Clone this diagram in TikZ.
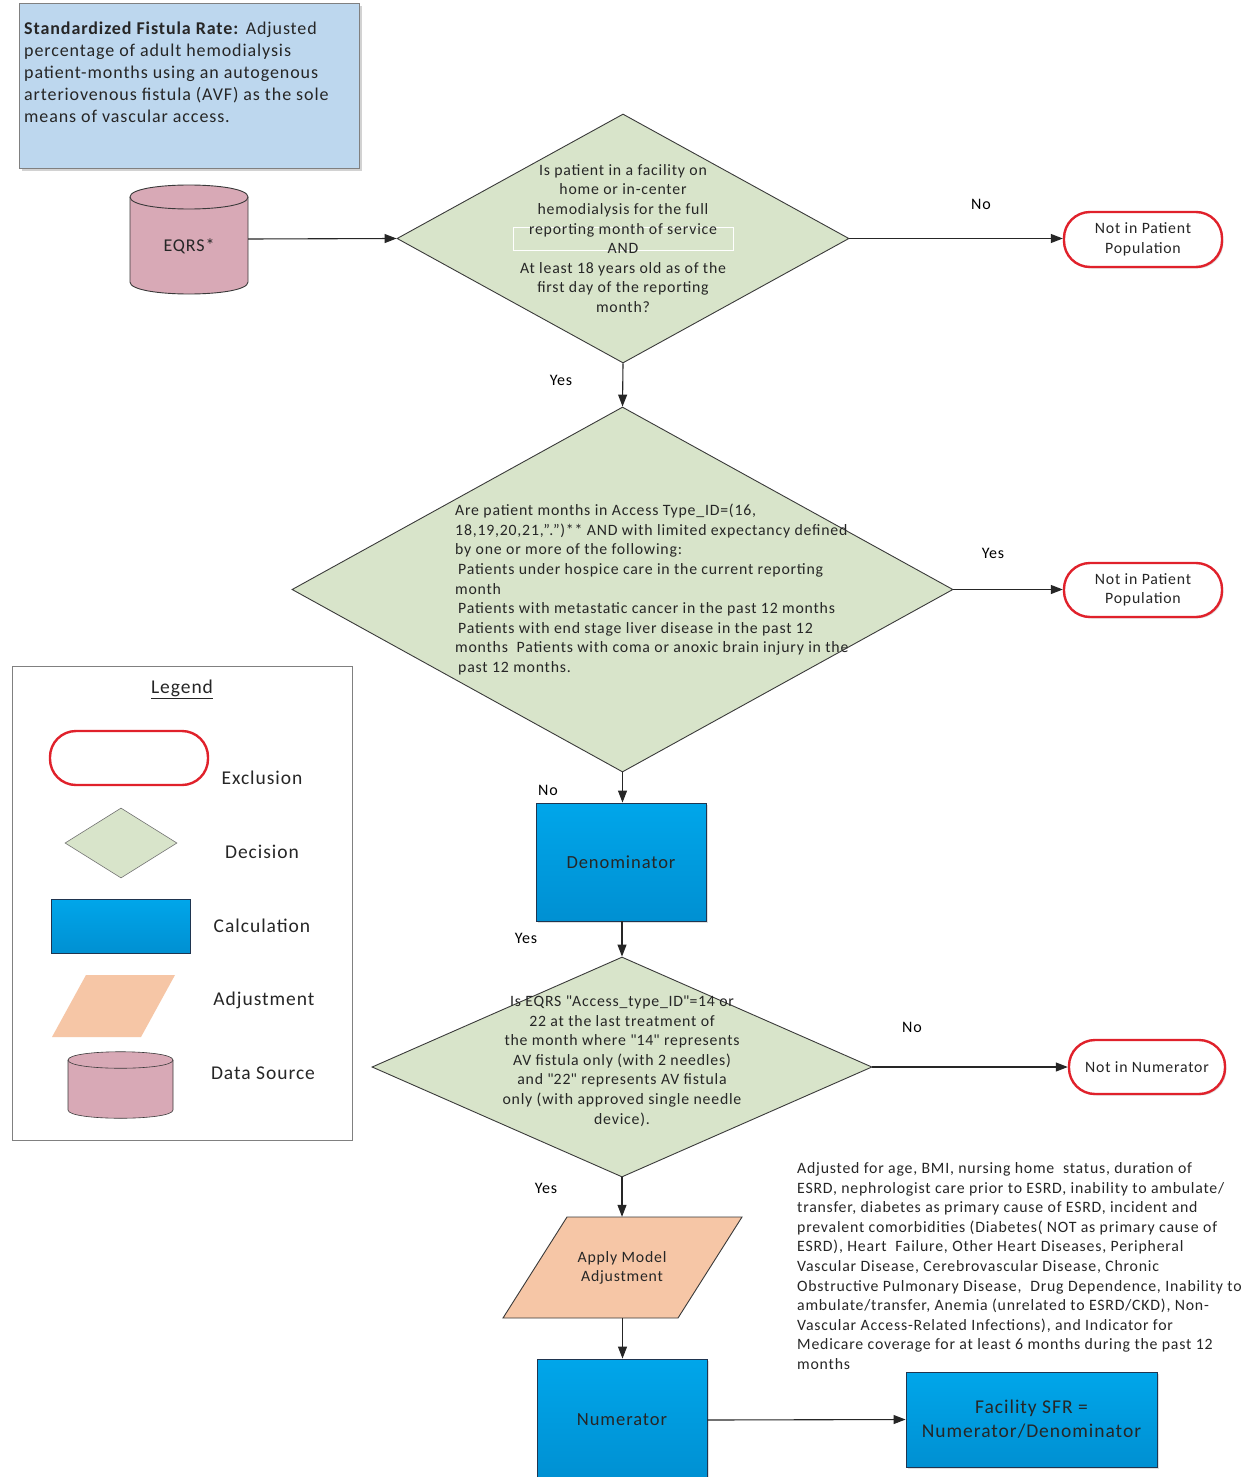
\documentclass[tikz,border=0pt]{standalone}
\usepackage{fontspec}
\setmainfont{Carlito}[LetterSpace=5]
\usetikzlibrary{shapes.geometric,arrows.meta,shadows}
\definecolor{boxblue}{HTML}{BDD7EE}
\definecolor{boxedge}{HTML}{808080}
\definecolor{decfill}{HTML}{D8E4CA}
\definecolor{decedge}{HTML}{3A3A3A}
\definecolor{calcA}{HTML}{00A6EA}
\definecolor{calcB}{HTML}{0090D2}
\definecolor{calcedge}{HTML}{1F3550}
\definecolor{adjfill}{HTML}{F6C6A6}
\definecolor{cylfill}{HTML}{D8A9B6}
\definecolor{exred}{HTML}{E0212B}
\definecolor{txt}{HTML}{262626}
\newcommand{\sq}{\textquotedbl}
\begin{document}
\begin{tikzpicture}[x=1pt,y=-1pt,
  every node/.style={text=txt, inner sep=0pt},
  ftxt/.style={font=\fontsize{15.8}{19.6}\selectfont},
  lbl/.style={font=\fontsize{16}{18}\selectfont, text=black},
  legtxt/.style={font=\fontsize{19.5}{22}\selectfont},
  arr/.style={-{Triangle[length=12pt,width=9pt]}, line width=1.1pt, draw=black!85},
  decision/.style={diamond, draw=decedge, fill=decfill, line width=0.9pt, inner sep=0pt},
  excl/.style={draw=exred, line width=2.4pt, fill=white, rounded corners=26pt, align=center,
     font=\fontsize{15.8}{19.5}\selectfont, drop shadow={shadow xshift=1.5pt, shadow yshift=-1.5pt, opacity=0.25}},
  calcbox/.style={draw=calcedge, line width=0.9pt, top color=calcA, bottom color=calcB, align=center,
     drop shadow={shadow xshift=1.5pt, shadow yshift=-1.5pt, opacity=0.25}},
  cyl/.style={draw=decedge, line width=0.9pt, fill=cylfill},
  para/.style={draw=decedge, line width=0.9pt, fill=adjfill}
]
\useasboundingbox (0,0) rectangle (1251,1477);
\fill[white] (0,0) rectangle (1251,1477);

% ---- title box
\node[draw=boxedge, fill=boxblue, line width=1pt, anchor=north west, minimum width=340pt, minimum height=165pt,
  drop shadow={shadow xshift=2.5pt, shadow yshift=-2.5pt, opacity=0.35}] (title) at (19,3) {};
\node[anchor=west, align=left, font=\fontsize{18}{22}\selectfont] (titletxt) at (24,72)
  {\textbf{Standardized Fistula Rate:} Adjusted\\
   percentage of adult hemodialysis\\
   patient-months using an autogenous\\
   arteriovenous fistula (AVF) as the sole\\
   means of vascular access.};

% ---- EQRS cylinder
\node[minimum width=118pt, minimum height=108pt] (eqrs) at (189,239) {};
\draw[cyl] (130,197) -- (130,282) .. controls (130,298) and (248,298) .. (248,282)
  -- (248,197) .. controls (248,181) and (130,181) .. (130,197) -- cycle;
\draw[decedge, line width=0.9pt] (130,197) .. controls (130,213) and (248,213) .. (248,197);
\node[font=\fontsize{18}{20}\selectfont] (eqrstxt) at (189,246) {EQRS*};

% ---- decision 1
\node[decision, minimum width=452pt, minimum height=249pt] (d1) at (623,238.5) {};
\draw[white, line width=0.6pt] (513,227) rectangle (733,250);
\node[ftxt, align=center] (d1t) at (623,238.5)
  {Is patient in a facility on\\
   home or in-center\\
   hemodialysis for the full\\
   reporting month of service\\
   AND\\
   At least 18 years old as of the\\
   first day of the reporting\\
   month?};

\node[excl, minimum width=158pt, minimum height=55pt] (ex1) at (1143,239.5) {Not in Patient\\Population};
\draw[arr] (eqrs.east) -- (d1.west);
\draw[arr] (d1.east) -- (d1.east -| ex1.west);
\node[lbl] (no1) at (981,204) {No};

% ---- decision 2
\node[decision, minimum width=661pt, minimum height=365pt] (d2) at (622.5,589.5) {};
\node[ftxt, align=left, anchor=west] (d2t) at (455,589.5)
  {Are patient months in Access Type\_ID=(16,\\
   18,19,20,21,”.”)** AND with limited expectancy defined\\
   by one or more of the following:\\
   \hspace*{3pt}Patients under hospice care in the current reporting\\
   month\\
   \hspace*{3pt}Patients with metastatic cancer in the past 12 months\\
   \hspace*{3pt}Patients with end stage liver disease in the past 12\\
   months\ \ Patients with coma or anoxic brain injury in the\\
   \hspace*{3pt}past 12 months.};
\draw[arr] (d1.south) -- (d2.north);
\node[lbl] (yes1) at (561,380) {Yes};

\node[excl, minimum width=158pt, minimum height=54pt] (ex2) at (1143,590) {Not in Patient\\Population};
\draw[arr] (d2.east) -- (d2.east -| ex2.west);
\node[lbl] (yes2) at (993,553) {Yes};

% ---- denominator
\node[calcbox, minimum width=170pt, minimum height=118pt, font=\fontsize{18.5}{22}\selectfont] (den) at (621,862) {Denominator};
\draw[arr] (d2.south) -- (d2.south |- den.north);
\node[lbl] (no2) at (548,790) {No};

% ---- decision 3
\node[decision, minimum width=500pt, minimum height=220pt] (d3) at (622,1067) {};
\node[ftxt, align=center] (d3t) at (622,1061)
  {Is EQRS \sq Access\_type\_ID\sq=14 or\\
   22 at the last treatment of\\
   the month where \sq 14\sq\ represents\\
   AV fistula only (with 2 needles)\\
   and \sq 22\sq\ represents AV fistula\\
   only (with approved single needle\\
   device).};
\draw[arr] (den.south -| d3.north) -- (d3.north);
\node[lbl] (yes3) at (526,938) {Yes};

\node[excl, minimum width=156pt, minimum height=54pt] (ex3) at (1147,1067) {Not in Numerator};
\draw[arr] (d3.east) -- (ex3.west);
\node[lbl] (no3) at (912,1027) {No};

% ---- adjustment
\node[minimum width=239pt, minimum height=101pt] (adj) at (622.5,1267.5) {};
\draw[para] (567,1217) -- (742,1217) -- (678,1318) -- (503,1318) -- cycle;
\node[ftxt, align=center] (adjt) at (622,1268) {Apply Model\\Adjustment};
\draw[arr] (d3.south) -- (d3.south |- adj.north);
\node[lbl] (yes4) at (546,1188) {Yes};

\node[ftxt, align=left, anchor=west] (adjnote) at (797,1266)
  {Adjusted for age, BMI, nursing home\ \ status, duration of\\
   ESRD, nephrologist care prior to ESRD, inability to ambulate/\\
   transfer, diabetes as primary cause of ESRD, incident and\\
   prevalent comorbidities (Diabetes( NOT as primary cause of\\
   ESRD), Heart\ \ Failure, Other Heart Diseases, Peripheral\\
   Vascular Disease, Cerebrovascular Disease, Chronic\\
   Obstructive Pulmonary Disease,\ \ Drug Dependence, Inability to\\
   ambulate/transfer, Anemia (unrelated to ESRD/CKD), Non-\\
   Vascular Access-Related Infections), and Indicator for\\
   Medicare coverage for at least 6 months during the past 12\\
   months};

% ---- numerator and result
\node[calcbox, minimum width=170pt, minimum height=122pt, font=\fontsize{18.5}{22}\selectfont] (num) at (622,1420) {Numerator};
\draw[arr] (adj.south) -- (adj.south |- num.north);
\node[calcbox, minimum width=251pt, minimum height=95pt, font=\fontsize{19.5}{24}\selectfont] (fac) at (1031.5,1419.5)
  {Facility SFR =\\Numerator/Denominator};
\draw[arr] (num.east) -- (fac.west);

% ---- legend
\node[draw=boxedge, line width=1pt, fill=white, anchor=north west, minimum width=340pt, minimum height=474pt] (leg) at (12,666) {};
\node[legtxt] (legtitle) at (182,689) {\underline{Legend}};
\node[draw=exred, line width=2.4pt, rounded corners=26pt, minimum width=158pt, minimum height=54pt] (lex) at (129,758) {};
\node[legtxt] (lexl) at (262,778) {Exclusion};
\node[decision, minimum width=112pt, minimum height=70pt, line width=0.6pt, draw=black!55] (ldec) at (121,843) {};
\node[legtxt] (ldecl) at (262,852) {Decision};
\node[draw=calcedge, line width=0.9pt, top color=calcA, bottom color=calcB, minimum width=139pt, minimum height=54pt] (lcalc) at (120.5,926) {};
\node[legtxt] (lcalcl) at (262,926) {Calculation};
\fill[adjfill] (86,975) -- (175,975) -- (141,1037) -- (52,1037) -- cycle;
\node[minimum width=123pt, minimum height=62pt] (ladj) at (113.5,1006) {};
\node[legtxt] (ladjl) at (264,1000) {Adjustment};
\node[minimum width=105pt, minimum height=66pt] (lcyl) at (120.5,1085) {};
\draw[cyl, line width=0.6pt] (68,1060) -- (68,1110) .. controls (68,1121) and (173,1121) .. (173,1110)
  -- (173,1060) .. controls (173,1049) and (68,1049) .. (68,1060) -- cycle;
\draw[decedge, line width=0.6pt] (68,1060) .. controls (68,1071) and (173,1071) .. (173,1060);
\node[legtxt] (lcyll) at (263,1073) {Data Source};
\end{tikzpicture}
\end{document}
